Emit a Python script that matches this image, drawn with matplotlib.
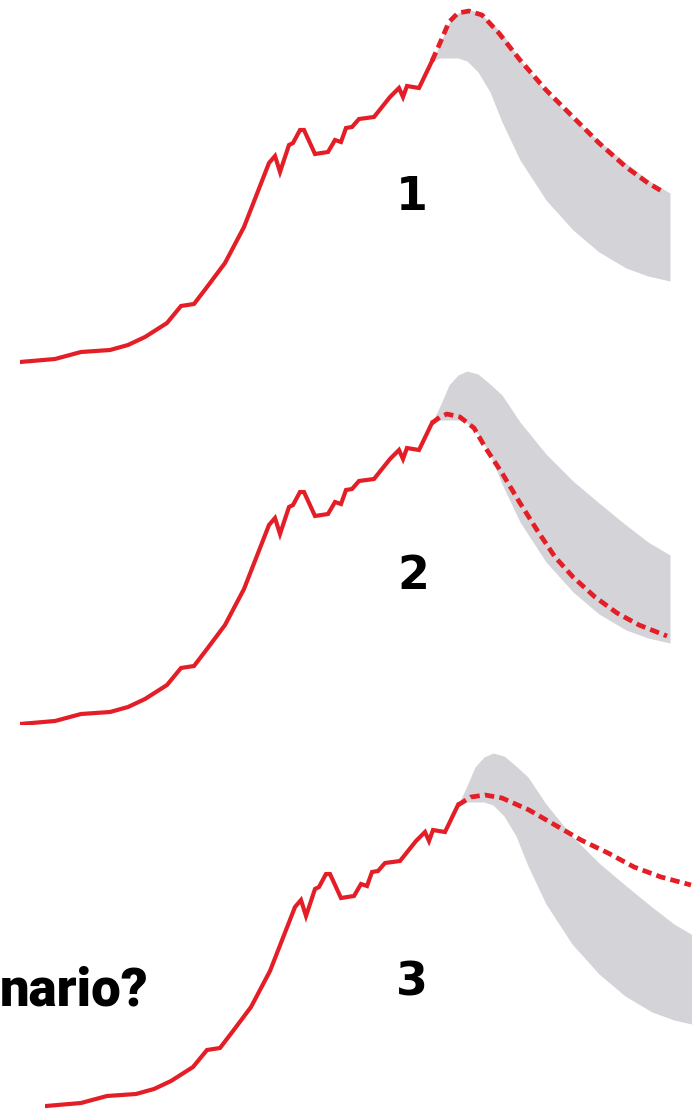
import matplotlib
matplotlib.use("Agg")
import matplotlib.pyplot as plt

# observed curve (same in all three panels)
hist_x = [0, 35, 61, 90, 108, 125, 147, 161, 174, 187, 205, 224, 249, 255, 260, 269, 273,
          280, 284, 295, 308, 315, 321, 326, 332, 339, 354, 370, 379, 383, 387, 399, 412]
hist_y = [8, 11, 18, 20, 25, 33, 47, 64, 66, 83, 107, 143, 207, 214, 198, 225, 227,
          240, 240, 216, 218, 230, 228, 242, 243, 251, 253, 273, 282, 273, 284, 282, 309]

# range of projections (grey band)
band_x = [412, 420, 429, 438, 447, 458, 470, 482, 500, 526, 553, 579, 606, 628, 650]
band_hi = [309, 326, 347, 357, 361, 358, 348, 337, 310, 278, 251, 229, 207, 190, 177]
band_lo = [309, 312, 312, 312, 309, 298, 278, 248, 210, 170, 140, 118, 102, 94, 89]

# scenario projections (dashed)
s1_x = [412, 420, 429, 438, 449, 462, 478, 500, 526, 553, 579, 606, 628, 645]
s1_y = [309, 327, 348, 357, 359, 355, 338, 310, 280, 253, 227, 203, 187, 177]
s2_x = [412, 420, 427, 440, 454, 465, 482, 500, 517, 535, 553, 575, 597, 619, 647]
s2_y = [309, 315, 318, 315, 304, 285, 259, 229, 202, 175, 155, 135, 119, 107, 96]
s3_x = [412, 425, 439, 456, 483, 509, 535, 562, 588, 615, 645]
s3_y = [309, 317, 319, 316, 304, 289, 274, 261, 247, 237, 229]

labels = ["1", "2", "3"]

RED = "#e41e26"
GREY = "#d4d4d8"
BG = "#fafafa"

fig = plt.figure(figsize=(6.92, 11.13), dpi=100)
fig.patch.set_facecolor("white")

# panel rectangles [left, bottom, width, height] and limits
rects = [[20/692, 1-365/1113, 650/692, 365/1113],
         [20/692, 1-725/1113, 650/692, 359/1113],
         [45/692, 0, 647/692, 363/1113]]
xlims = [(0, 650), (0, 650), (-1, 646)]
ylims = [(5, 370), (7, 366), (1, 364)]
label_pos = [(0.603, 0.458), (0.605, 0.415), (0.567, 0.358)]
scen = [(s1_x, s1_y), (s2_x, s2_y), (s3_x, s3_y)]

for i in range(3):
    ax = fig.add_axes(rects[i])
    ax.set_facecolor(BG)
    ax.fill_between(band_x, band_lo, band_hi, color=GREY, lw=0)
    ax.plot(hist_x, hist_y, color=RED, lw=3.0, solid_joinstyle="miter")
    ax.plot(scen[i][0], scen[i][1], color=RED, lw=3.4, dashes=(2.0, 1.1))
    ax.text(label_pos[i][0], label_pos[i][1], labels[i], transform=ax.transAxes,
            ha="center", va="center", fontsize=33, fontweight="bold",
            family="DejaVu Sans", color="black")
    ax.set_xlim(xlims[i])
    ax.set_ylim(ylims[i])
    ax.axis("off")

# side caption (only its tail is visible in the picture)
fig.text(0, 1-1005/1113, "nario?", ha="left", va="baseline",
         fontsize=38, fontweight="black",
         family=["Roboto", "DejaVu Sans"], color="black")

fig.savefig("out.png", dpi=100, facecolor="white")
